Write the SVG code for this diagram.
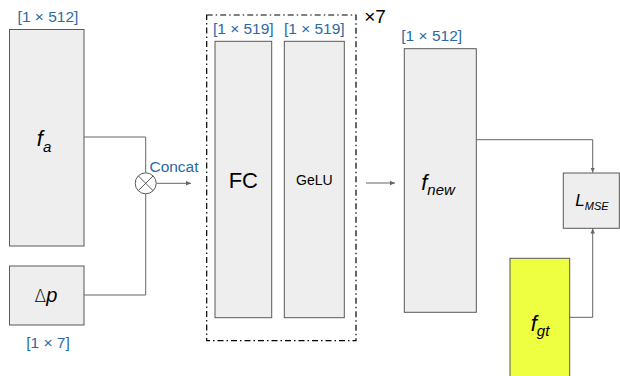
<svg xmlns="http://www.w3.org/2000/svg" width="620" height="376" viewBox="0 0 620 376">
<style>
.box{fill:#eeeeee;stroke:#595959;stroke-width:1}
.dim{font-family:"Liberation Sans",Arial,sans-serif;font-size:15.5px;fill:#2b6aa6;text-anchor:middle}
.lbl{font-family:"Liberation Sans",Arial,sans-serif;fill:#000;text-anchor:middle}
.it{font-style:italic}
.ln{fill:none;stroke:#666666;stroke-width:1}
</style>
<defs>
<marker id="ah" markerWidth="6" markerHeight="6" refX="5" refY="3" orient="auto" markerUnits="userSpaceOnUse">
<path d="M0,0.8 L5,3 L0,5.2 Z" fill="#666666"/>
</marker>
</defs>
<g id="connectors">
<polyline class="ln" points="84,137 145.7,137 145.7,172.5"/>
<polyline class="ln" points="84,295 145.7,295 145.7,194"/>
<line class="ln" x1="156.5" y1="183.3" x2="191" y2="183.3" marker-end="url(#ah)"/>
<line class="ln" x1="366" y1="183" x2="395" y2="183" marker-end="url(#ah)"/>
<polyline class="ln" points="476.3,139.7 592.7,139.7 592.7,172.5" marker-end="url(#ah)"/>
<polyline class="ln" points="569.7,317.3 592.7,317.3 592.7,228.5" marker-end="url(#ah)"/>
</g>
<g id="fa">
<text class="dim" x="48" y="22">[1 × 512]</text>
<rect class="box" x="9.5" y="29.5" width="74.5" height="216.5"/>
<text class="lbl it" x="44" y="146" font-size="22">f<tspan font-size="15" dy="6">a</tspan></text>
</g>
<g id="dp">
<rect class="box" x="9.5" y="266" width="74.5" height="59"/>
<text class="lbl" x="46" y="302" font-size="20"><tspan font-family="DejaVu Sans" font-weight="200" font-size="17">Δ</tspan><tspan class="it">p</tspan></text>
<text class="dim" x="48" y="348">[1 × 7]</text>
</g>
<g id="concat">
<circle cx="145.7" cy="183.3" r="10.5" fill="#ffffff" stroke="#595959" stroke-width="1"/>
<line x1="138.3" y1="175.9" x2="153.1" y2="190.7" stroke="#595959" stroke-width="1"/>
<line x1="153.1" y1="175.9" x2="138.3" y2="190.7" stroke="#595959" stroke-width="1"/>
<text class="dim" x="174" y="172" font-size="16">Concat</text>
</g>
<g id="block">
<rect x="206.7" y="15" width="149.3" height="325.7" fill="none" stroke="#000" stroke-width="1.2" stroke-dasharray="6,3,1.5,3"/>
<text class="lbl" x="375" y="23" font-size="19">×7</text>
</g>
<g id="fc">
<text class="dim" x="243.3" y="34">[1 × 519]</text>
<rect class="box" x="215" y="41.3" width="56.7" height="276.4"/>
<text class="lbl" x="243.3" y="188" font-size="22">FC</text>
</g>
<g id="gelu">
<text class="dim" x="314.3" y="34">[1 × 519]</text>
<rect class="box" x="284.3" y="41.3" width="60" height="276.4"/>
<text class="lbl" x="314.3" y="185" font-size="14">GeLU</text>
</g>
<g id="fnew">
<text class="dim" x="431.7" y="40.5">[1 × 512]</text>
<rect class="box" x="404.3" y="48.7" width="72" height="263.6"/>
<text class="lbl it" x="438" y="190" font-size="22">f<tspan font-size="15" dy="5">new</tspan></text>
</g>
<g id="lmse">
<rect class="box" x="563.3" y="173" width="56" height="55.3"/>
<text class="lbl it" x="592" y="206" font-size="17">L<tspan font-size="11" dy="4">MSE</tspan></text>
</g>
<g id="fgt">
<rect x="510" y="258.3" width="59.7" height="125" fill="#eeff41" stroke="#595959" stroke-width="1"/>
<text class="lbl it" x="540" y="331" font-size="22">f<tspan font-size="15" dy="5">gt</tspan></text>
</g>
</svg>
